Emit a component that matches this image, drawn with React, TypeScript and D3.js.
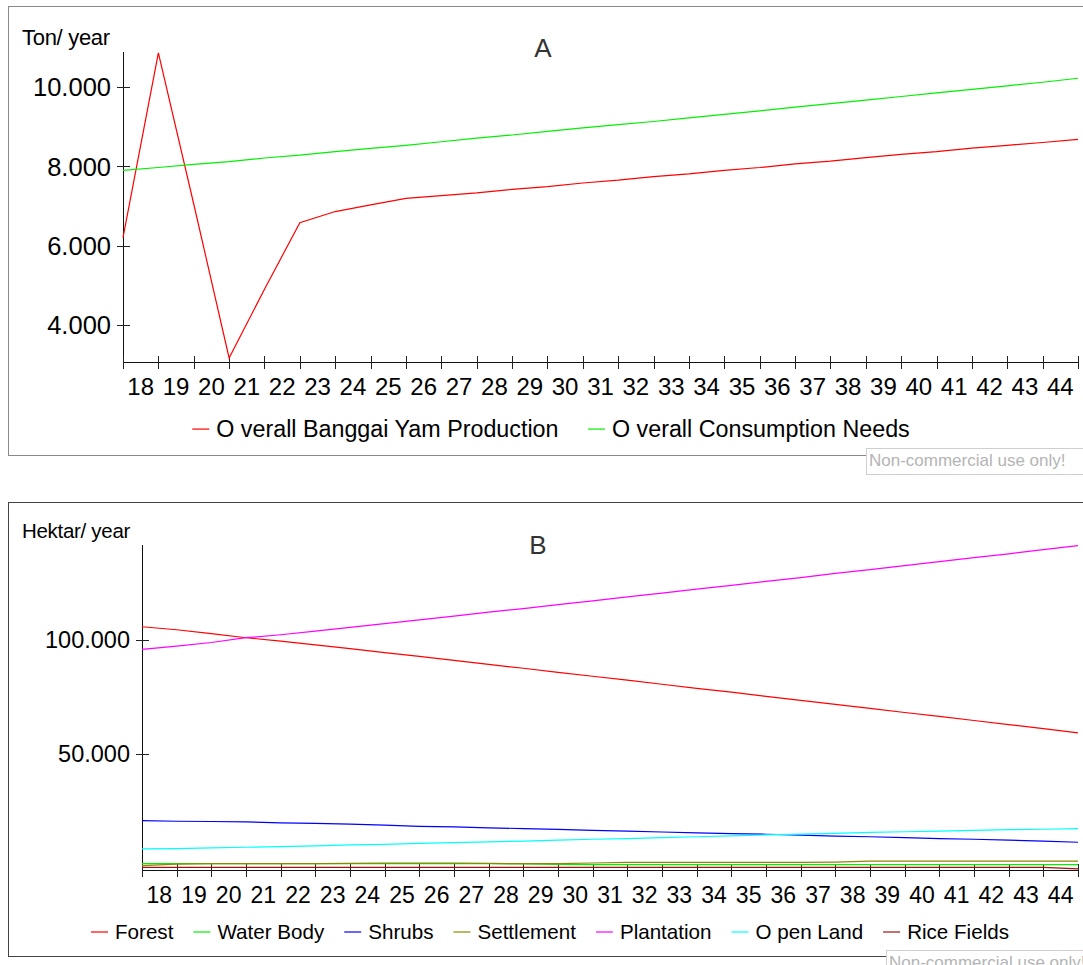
import React from "react";
import * as d3 from "d3";

// ---------- DATA ----------
const years = d3.range(2018, 2046); // 2018..2045 (28 points)
const xTickLabels = ["18","19","20","21","22","23","24","25","26","27","28","29","30","31","32","33","34","35","36","37","38","39","40","41","42","43","44"];

const yamProduction = [6200, 10860, 7050, 3170, 4900, 6580, 6860, 7030, 7190, 7260, 7330, 7420, 7490, 7580, 7650, 7740, 7810, 7900, 7970, 8060, 8130, 8220, 8300, 8370, 8460, 8530, 8600, 8680];
const consumptionNeeds = [7900, 7970, 8050, 8120, 8210, 8280, 8370, 8450, 8530, 8620, 8710, 8790, 8880, 8970, 9050, 9130, 9220, 9310, 9400, 9490, 9580, 9670, 9760, 9850, 9940, 10030, 10120, 10220];

const forest = [105800, 104500, 102800, 101000, 99500, 97900, 96200, 94500, 92800, 91100, 89300, 87600, 85800, 84100, 82400, 80600, 78800, 77100, 75300, 73500, 71800, 70000, 68200, 66500, 64700, 62900, 61100, 59300];
const waterBody = [1900, 1900, 1900, 1900, 1900, 1900, 1900, 1900, 1900, 1900, 1900, 1800, 1600, 1500, 1500, 1500, 1500, 1500, 1500, 1500, 1500, 1500, 1500, 1500, 1500, 1500, 1500, 1500];
const shrubs = [20800, 20500, 20400, 20200, 19800, 19600, 19200, 18800, 18300, 18000, 17600, 17300, 16900, 16500, 16200, 15800, 15400, 15100, 14800, 14400, 14000, 13700, 13300, 12900, 12600, 12200, 11800, 11300];
const settlement = [1000, 1700, 1900, 1900, 1900, 1900, 2000, 2100, 2100, 2100, 2000, 1900, 1900, 2200, 2500, 2500, 2500, 2500, 2500, 2500, 2600, 3000, 3000, 3000, 3000, 3000, 3000, 3000];
const plantation = [95900, 97300, 98900, 101000, 102300, 103900, 105500, 107200, 108800, 110500, 112200, 113800, 115500, 117200, 118900, 120600, 122300, 124000, 125700, 127400, 129200, 130900, 132600, 134400, 136100, 137800, 139600, 141400];
const openLand = [8400, 8500, 8800, 9100, 9400, 9700, 10100, 10400, 10800, 11100, 11500, 11800, 12200, 12600, 12900, 13300, 13700, 14100, 14500, 14900, 15200, 15600, 15900, 16200, 16500, 16800, 17000, 17300];
const riceFields = [300, 300, 300, 300, 300, 300, 300, 300, 300, 300, 300, 300, 300, 300, 300, 300, 300, 300, 300, 300, 300, 300, 300, 300, 300, 300, 300, -400];

const ticksA = [4000, 6000, 8000, 10000];
const ticksB = [50000, 100000];

const seriesA = [
  { name: "O verall Banggai Yam Production", values: yamProduction, color: "#ff0000" },
  { name: "O verall Consumption Needs", values: consumptionNeeds, color: "#00f000" },
];
const seriesB = [
  { name: "Forest", values: forest, color: "#ff0000" },
  { name: "Water Body", values: waterBody, color: "#00f000" },
  { name: "Shrubs", values: shrubs, color: "#0000ff" },
  { name: "Settlement", values: settlement, color: "#8a8a00" },
  { name: "Plantation", values: plantation, color: "#ff00ff" },
  { name: "O pen Land", values: openLand, color: "#00ffff" },
  { name: "Rice Fields", values: riceFields, color: "#a01010" },
];

// ---------- HELPERS ----------
const FONT = "'Liberation Sans', Arial, sans-serif";
const locale = d3.formatLocale({ decimal: ",", thousands: ".", grouping: [3], currency: ["", ""] });
const fmt = locale.format(",");

function measure(text: string, size: number): number {
  if (typeof document === "undefined") return text.length * size * 0.5;
  const c = document.createElement("canvas");
  const ctx = c.getContext("2d")!;
  ctx.font = `${size}px 'Liberation Sans', Arial, sans-serif`;
  return ctx.measureText(text).width;
}

type Series = { name: string; values: number[]; color: string };

function Panel(props: {
  top: number; bottom: number; plotLeft: number; plotTop: number; plotBottom: number;
  yDomain: [number, number]; ticks: number[]; series: Series[]; title: string; titleX: number;
  titleY: number; yTitle: string; yTitleSize: number; yTickSize: number; xTickSize: number;
  legendSize: number; legendY: number; legendCenter: number; legendGap: number;
  border: string; ncX: number; ncY: number;
}) {
  const { top, bottom, plotLeft, plotTop, plotBottom, yDomain, ticks, series } = props;
  const plotRight = 1078;
  const x = d3.scaleLinear().domain([years[0], years[years.length - 1]]).range([plotLeft, plotRight]);
  const y = d3.scaleLinear().domain(yDomain).range([plotBottom, plotTop]);
  const line = d3.line<number>().x((_, i) => x(years[i])).y((v) => y(v));

  const lineLen = 17, lineGap = 7;
  const widths = series.map((s) => lineLen + lineGap + measure(s.name, props.legendSize));
  const total = d3.sum(widths) + props.legendGap * (series.length - 1);
  let cursor = props.legendCenter - total / 2;
  const legendItems = series.map((s, i) => {
    const x0 = cursor;
    cursor += widths[i] + props.legendGap;
    return { ...s, x0 };
  });

  return (
    <g>
      <rect x={8.5} y={top + 0.5} width={1100} height={bottom - top} fill="white" stroke={props.border} strokeWidth={1} />
      <text x={props.titleX} y={props.titleY} fontSize={26} fill="#333" textAnchor="middle" fontFamily={FONT}>{props.title}</text>
      <text x={22} y={plotTop - 7} fontSize={props.yTitleSize} fill="#000" fontFamily={FONT} letterSpacing={-0.3}>{props.yTitle}</text>

      {/* axes */}
      <line x1={plotLeft + 0.5} x2={plotLeft + 0.5} y1={plotTop} y2={plotBottom} stroke="#111" />
      <line x1={plotLeft} x2={plotRight + 0.5} y1={plotBottom + 0.5} y2={plotBottom + 0.5} stroke="#111" />
      {years.map((yr) => (
        <line key={yr} x1={Math.round(x(yr)) + 0.5} x2={Math.round(x(yr)) + 0.5} y1={plotBottom - 6} y2={plotBottom + 7} stroke="#222" />
      ))}
      {xTickLabels.map((lab, i) => (
        <text key={lab} x={x(years[i] + 0.5)} y={plotBottom + 33} fontSize={props.xTickSize} textAnchor="middle" fill="#000" fontFamily={FONT}>{lab}</text>
      ))}
      {ticks.map((t) => (
        <g key={t}>
          <line x1={plotLeft - 6} x2={plotLeft + 7} y1={Math.round(y(t)) + 0.5} y2={Math.round(y(t)) + 0.5} stroke="#222" />
          <text x={plotLeft - 12} y={y(t) + props.yTickSize * 0.36} fontSize={props.yTickSize} textAnchor="end" fill="#000" fontFamily={FONT}>{fmt(t)}</text>
        </g>
      ))}

      {/* series */}
      {series.map((s) => (
        <path key={s.name} d={line(s.values) || ""} fill="none" stroke={s.color} strokeWidth={1.2} />
      ))}

      {/* legend */}
      {legendItems.map((s) => (
        <g key={s.name}>
          <line x1={s.x0} x2={s.x0 + lineLen} y1={props.legendY - props.legendSize * 0.34} y2={props.legendY - props.legendSize * 0.34} stroke={s.color} strokeWidth={1.2} />
          <text x={s.x0 + lineLen + lineGap} y={props.legendY} fontSize={props.legendSize} fill="#000" fontFamily={FONT}>{s.name}</text>
        </g>
      ))}

      {/* watermark */}
      <rect x={props.ncX + 0.5} y={props.ncY + 0.5} width={240} height={26} fill="white" stroke="#cfcfcf" />
      <text x={props.ncX + 3} y={props.ncY + 18} fontSize={17} fill="#b4b4b4" fontFamily={FONT}>Non-commercial use only!</text>
    </g>
  );
}

export default function App() {
  return (
    <svg width={1083} height={965} style={{ position: "absolute", left: 0, top: 0, background: "white" }}>
      <Panel top={6} bottom={455} plotLeft={123} plotTop={52} plotBottom={362}
        yDomain={[3067, 10882]} ticks={ticksA} series={seriesA} title="A" titleX={543} titleY={57}
        yTitle="Ton/ year" yTitleSize={22} yTickSize={25.5} xTickSize={24} legendSize={23.3}
        legendY={437} legendCenter={551} legendGap={29} border="#8a8a8a" ncX={866} ncY={448} />
      <Panel top={502} bottom={956} plotLeft={142} plotTop={545} plotBottom={870}
        yDomain={[-877, 141667]} ticks={ticksB} series={seriesB} title="B" titleX={538} titleY={554}
        yTitle="Hektar/ year" yTitleSize={20.5} yTickSize={23.5} xTickSize={23} legendSize={20.6}
        legendY={939} legendCenter={550} legendGap={20} border="#444" ncX={886} ncY={950} />
    </svg>
  );
}
